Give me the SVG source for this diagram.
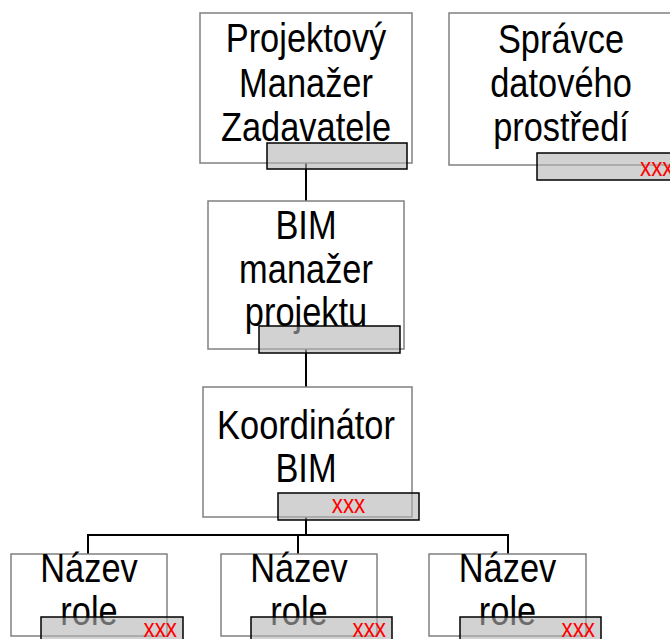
<svg xmlns="http://www.w3.org/2000/svg" width="670" height="639" viewBox="0 0 670 639">
<style>
.box{fill:#fff;stroke:#808080;stroke-width:1.5}
.bar{fill:#b4b4b4;fill-opacity:0.6;stroke:#000;stroke-width:1.5}
.t{font-family:"Liberation Sans",Arial,sans-serif;font-size:40px;fill:#000;text-anchor:middle}
.x{font-family:"Liberation Sans",Arial,sans-serif;font-size:26px;fill:#ff0000}
.c{fill:none;stroke:#000;stroke-width:2}
</style>
<rect width="670" height="639" fill="#fff"/>
<g id="connectors">
<path class="c" d="M306 163V201M306 349V387M306 517V535M88 554V535H508V554M298 535V554"/>
</g>
<g id="pm">
<rect class="box" x="200" y="13" width="212" height="150"/>
<text class="t" transform="translate(306 52) scale(0.86 1)">Projektový</text>
<text class="t" transform="translate(306 96.5) scale(0.86 1)">Manažer</text>
<text class="t" transform="translate(306 140.5) scale(0.86 1)">Zadavatele</text>
<rect class="bar" x="267" y="143" width="140" height="26"/>
</g>
<g id="spravce">
<rect class="box" x="449" y="13" width="224" height="152"/>
<text class="t" transform="translate(561 53) scale(0.86 1)">Správce</text>
<text class="t" transform="translate(561 97) scale(0.86 1)">datového</text>
<text class="t" transform="translate(561 141) scale(0.86 1)">prostředí</text>
<rect class="bar" x="537" y="153" width="140" height="27"/>
<text class="x" transform="translate(640 176) scale(0.86 1)">xxx</text>
</g>
<g id="bim">
<rect class="box" x="208" y="201" width="196" height="148"/>
<text class="t" transform="translate(306 239) scale(0.86 1)">BIM</text>
<text class="t" transform="translate(306 283) scale(0.86 1)">manažer</text>
<text class="t" transform="translate(306 326) scale(0.86 1)">projektu</text>
<rect class="bar" x="259" y="326" width="141" height="27"/>
</g>
<g id="koord">
<rect class="box" x="203" y="387" width="209" height="130"/>
<text class="t" transform="translate(306 439) scale(0.86 1)">Koordinátor</text>
<text class="t" transform="translate(306 482) scale(0.86 1)">BIM</text>
<rect class="bar" x="278" y="493" width="141" height="27"/>
<text class="x" text-anchor="middle" transform="translate(348.5 513) scale(0.86 1)">xxx</text>
</g>
<g id="role1">
<rect class="box" x="11" y="554" width="156" height="82"/>
<text class="t" transform="translate(89 582) scale(0.86 1)">Název</text>
<text class="t" transform="translate(89 625) scale(0.86 1)">role</text>
<rect class="bar" x="41" y="617" width="142" height="30"/>
<text class="x" text-anchor="end" transform="translate(177 637) scale(0.86 1)">xxx</text>
</g>
<g id="role2">
<rect class="box" x="221" y="554" width="156" height="82"/>
<text class="t" transform="translate(299 582) scale(0.86 1)">Název</text>
<text class="t" transform="translate(299 625) scale(0.86 1)">role</text>
<rect class="bar" x="251" y="617" width="141" height="30"/>
<text class="x" text-anchor="end" transform="translate(386 637) scale(0.86 1)">xxx</text>
</g>
<g id="role3">
<rect class="box" x="429" y="554" width="157" height="82"/>
<text class="t" transform="translate(507.5 582) scale(0.86 1)">Název</text>
<text class="t" transform="translate(507.5 625) scale(0.86 1)">role</text>
<rect class="bar" x="460" y="617" width="141" height="30"/>
<text class="x" text-anchor="end" transform="translate(595 637) scale(0.86 1)">xxx</text>
</g>
</svg>
